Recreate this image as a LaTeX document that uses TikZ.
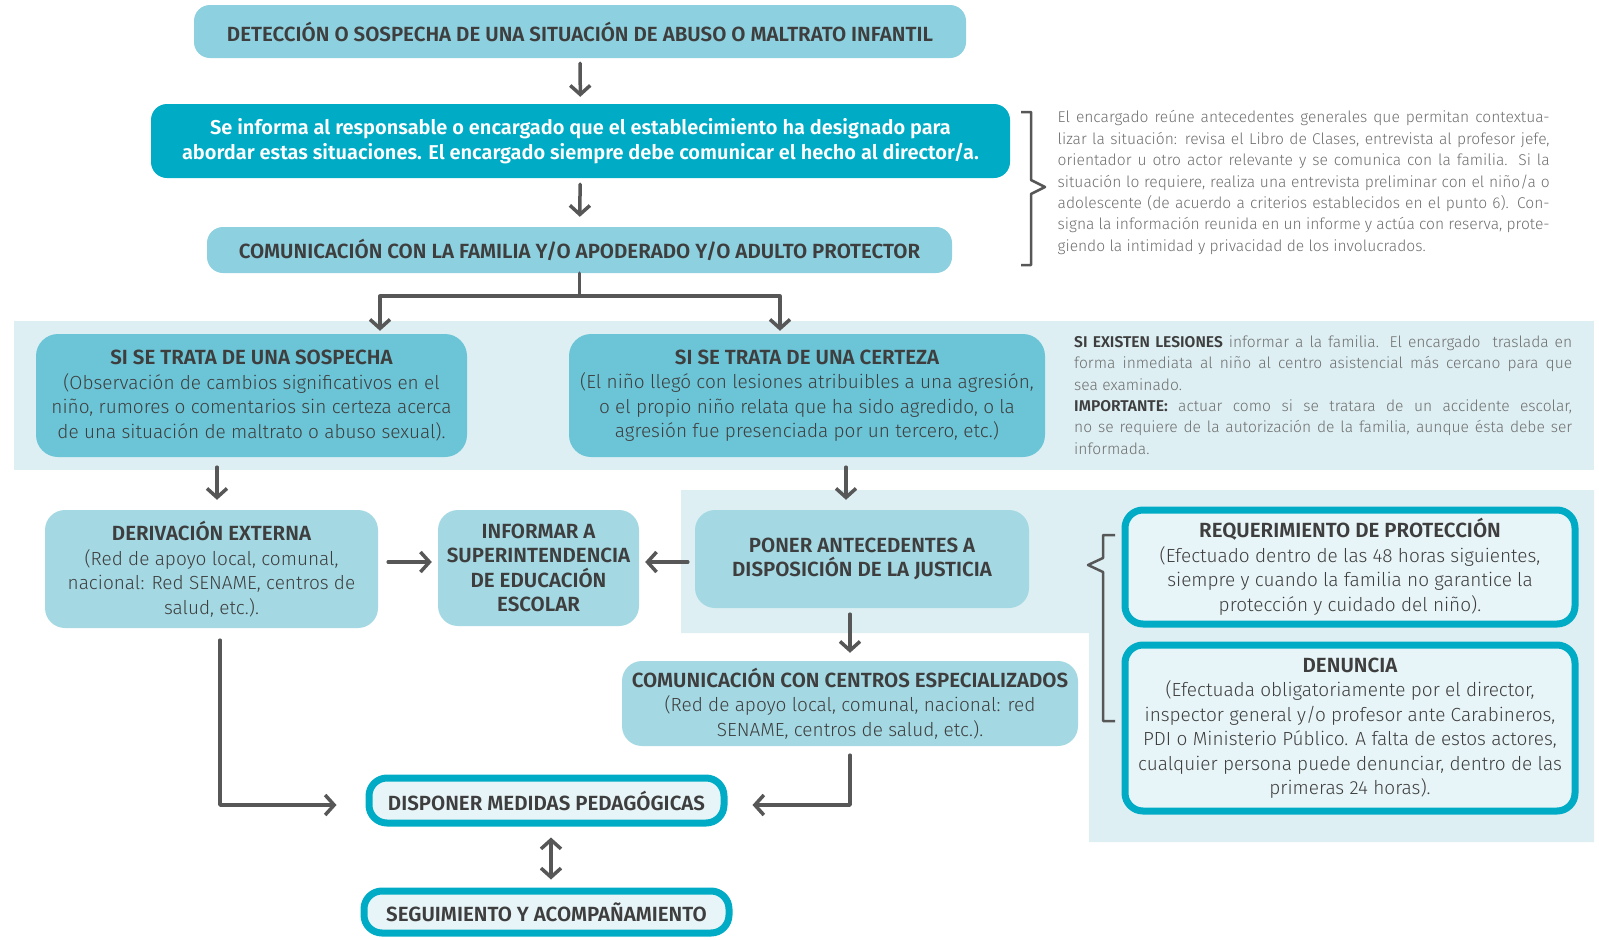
\documentclass[tikz,border=0pt]{standalone}
\usepackage{fontspec}
\setmainfont{Fira Sans Light}[BoldFont={Fira Sans SemiBold}]
\usetikzlibrary{arrows.meta}
\definecolor{bandblue}{HTML}{DDEFF3}
\definecolor{skyblue}{HTML}{8DD0DF}
\definecolor{tealblue}{HTML}{00ACC5}
\definecolor{midblue}{HTML}{6CC5D7}
\definecolor{paleblue}{HTML}{A4D9E4}
\definecolor{ringfill}{HTML}{E8F5F8}
\definecolor{inkgray}{HTML}{3E3E3E}
\definecolor{notegray}{HTML}{6F6F6F}
\definecolor{arrowgray}{HTML}{575757}
\newcommand\casetitle[1]{{\bfseries\fontsize{20.5}{24.5}\selectfont #1}}

\begin{document}
\begin{tikzpicture}[x=1pt,y=-1pt,
	box/.style={rounded corners=16pt, inner sep=0pt, align=center, text=inkgray,
		font=\fontsize{19}{24.5}\selectfont},
	capsfont/.style={font=\bfseries\fontsize{20.5}{24.5}\selectfont},
	skybox/.style={box, fill=skyblue, capsfont},
	tealbox/.style={box, fill=tealblue, text=white, font=\bfseries\fontsize{20}{24.5}\selectfont},
	midbox/.style={box, fill=midblue, rounded corners=22pt},
	palebox/.style={box, fill=paleblue, rounded corners=20pt},
	ringbox/.style={box, fill=ringfill, draw=tealblue, line width=7pt, rounded corners=18pt},
	note/.style={inner sep=0pt, align=justify, text=notegray, font=\fontsize{15.6}{21.4}\selectfont},
	arr/.style={draw=arrowgray, line width=3.5pt, line cap=round, line join=round,
		-{Straight Barb[length=9pt,width=20pt]}},
	plain/.style={draw=arrowgray, line width=3.5pt, line cap=round, line join=round}]
	\useasboundingbox (0,0) rectangle (1599,940);
	% light bands behind the two branches
	\fill[bandblue] (14,321) rectangle (1594,470);
	\fill[bandblue] (681,490) -- (1594,490) -- (1594,842) -- (1089,842) -- (1089,633) -- (681,633) -- cycle;

	\node[skybox, minimum width=772pt, minimum height=53pt] (detec) at (580,31.5)
		{DETECCIÓN O SOSPECHA DE UNA SITUACIÓN DE ABUSO O MALTRATO INFANTIL};
	\node[tealbox, minimum width=859pt, minimum height=74pt] (informa) at (580.5,141)
		{Se informa al responsable o encargado que el establecimiento ha designado para\\
		abordar estas situaciones. El encargado siempre debe comunicar el hecho al director/a.};
	\node[skybox, minimum width=745pt, minimum height=46pt] (comfam) at (579.5,250)
		{COMUNICACIÓN CON LA FAMILIA Y/O APODERADO Y/O ADULTO PROTECTOR};
	\node[note, text width=492pt, anchor=west] (encargado) at (1057.5,182.5)
		{El encargado reúne antecedentes generales que permitan contextua-\linebreak
		lizar la situación: revisa el Libro de Clases, entrevista al profesor jefe,\linebreak
		orientador u otro actor relevante y se comunica con la familia. Si la\linebreak
		situación lo requiere, realiza una entrevista preliminar con el niño/a o\linebreak
		adolescente (de acuerdo a criterios establecidos en el punto 6). Con-\linebreak
		signa la información reunida en un informe y actúa con reserva, prote-\linebreak
		giendo la intimidad y privacidad de los involucrados.};

	\node[midbox, minimum width=431pt, minimum height=123pt] (sospecha) at (251.5,395.5)
		{\casetitle{SI SE TRATA DE UNA SOSPECHA}\\
		(Observación de cambios significativos en el\\
		niño, rumores o comentarios sin certeza acerca\\
		de una situación de maltrato o abuso sexual).};
	\node[midbox, minimum width=476pt, minimum height=123pt] (certeza) at (807,395.5)
		{\casetitle{SI SE TRATA DE UNA CERTEZA}\\
		(El niño llegó con lesiones atribuibles a una agresión,\\
		o el propio niño relata que ha sido agredido, o la\\
		agresión fue presenciada por un tercero, etc.)};
	\node[note, text width=498pt, anchor=west] (lesiones) at (1074,395)
		{\textcolor{inkgray}{\textbf{SI EXISTEN LESIONES}} informar a la familia. El encargado\ \ traslada en\linebreak
		forma inmediata al niño al centro asistencial más cercano para que\linebreak
		sea examinado.\\
		\textcolor{inkgray}{\textbf{IMPORTANTE:}} actuar como si se tratara de un accidente escolar,\linebreak
		no se requiere de la autorización de la familia, aunque ésta debe ser\linebreak
		informada.};

	\node[palebox, minimum width=333pt, minimum height=118pt] (derivacion) at (211.5,569)
		{\casetitle{DERIVACIÓN EXTERNA}\\
		(Red de apoyo local, comunal,\\
		nacional: Red SENAME, centros de\\
		salud, etc.).};
	\node[palebox, minimum width=201pt, minimum height=116pt, capsfont] (superint) at (538.5,568)
		{INFORMAR A\\SUPERINTENDENCIA\\DE EDUCACIÓN\\ESCOLAR};
	\node[palebox, minimum width=334pt, minimum height=98pt, capsfont] (justicia) at (862,559)
		{PONER ANTECEDENTES A\\DISPOSICIÓN DE LA JUSTICIA};
	\node[palebox, minimum width=456pt, minimum height=85pt] (centros) at (850,703.5)
		{\casetitle{COMUNICACIÓN CON CENTROS ESPECIALIZADOS}\\
		(Red de apoyo local, comunal, nacional: red\\
		SENAME, centros de salud, etc.).};
	\node[ringbox, minimum width=450pt, minimum height=114pt] (proteccion) at (1350,567)
		{\casetitle{REQUERIMIENTO DE PROTECCIÓN}\\
		(Efectuado dentro de las 48 horas siguientes,\\
		siempre y cuando la familia no garantice la\\
		protección y cuidado del niño).};
	\node[ringbox, minimum width=450pt, minimum height=166pt] (denuncia) at (1350,728)
		{\casetitle{DENUNCIA}\\
		(Efectuada obligatoriamente por el director,\\
		inspector general y/o profesor ante Carabineros,\\
		PDI o Ministerio Público. A falta de estos actores,\\
		cualquier persona puede denunciar, dentro de las\\
		primeras 24 horas).};
	\node[ringbox, minimum width=355pt, minimum height=45pt, capsfont] (medidas) at (546.5,800.5)
		{DISPONER MEDIDAS PEDAGÓGICAS};
	\node[ringbox, minimum width=365pt, minimum height=42pt, capsfont] (seguimiento) at (546.5,912)
		{SEGUIMIENTO Y ACOMPAÑAMIENTO};

	% brackets
	\draw[plain, line width=2.5pt, line cap=butt] (1021,112) -- (1031,112) -- (1031,180) -- (1045,187)
		-- (1031,194) -- (1031,265) -- (1021,265);
	\draw[plain, line width=2.5pt, line cap=butt] (1115,535) -- (1103,535) -- (1103,558) -- (1088,565)
		-- (1103,572) -- (1103,721) -- (1115,721);

	% connectors
	\draw[arr, shorten <=5pt, shorten >=7pt] (detec) -- (informa);
	\draw[arr, shorten <=6pt, shorten >=10pt] (informa) -- (comfam);
	\coordinate (split) at ([yshift=-23pt]comfam.south);
	\draw[plain] (comfam.south) -- (split);
	\draw[arr, shorten >=3pt] (split) -| ([xshift=128.5pt]sospecha.north);
	\draw[arr, shorten >=3pt] (split) -| ([xshift=-27pt]certeza.north);
	\draw[arr, shorten <=10pt, shorten >=10pt] ([xshift=5.5pt]derivacion.north |- sospecha.south) -- ([xshift=5.5pt]derivacion.north);
	\draw[arr, shorten <=10pt, shorten >=10pt] ([xshift=-16pt]justicia.north |- certeza.south) -- ([xshift=-16pt]justicia.north);
	\draw[arr, shorten <=10pt, shorten >=6pt] (derivacion.east |- superint.west) ++(0,-6) -- ([yshift=6pt]superint.west);
	\draw[arr, shorten <=7pt, shorten >=6pt] ([yshift=6pt]superint.east -| justicia.west) -- ([yshift=6pt]superint.east);
	\draw[arr, shorten <=6pt, shorten >=8pt] (justicia.south -| centros.north) -- (centros.north);
	\draw[arr, shorten <=12pt, shorten >=29pt] ([xshift=8.5pt]derivacion.south) |- ([yshift=-4.5pt]medidas.west);
	\draw[arr, shorten <=9pt, shorten >=25pt] (centros.south) |- ([yshift=-4.5pt]medidas.east);
	\draw[arr, {Straight Barb[length=9pt,width=20pt]}-{Straight Barb[length=9pt,width=20pt]}, shorten <=11pt, shorten >=8pt]
		([xshift=4.5pt]medidas.south) -- ([xshift=4.5pt]seguimiento.north);
\end{tikzpicture}
\end{document}
